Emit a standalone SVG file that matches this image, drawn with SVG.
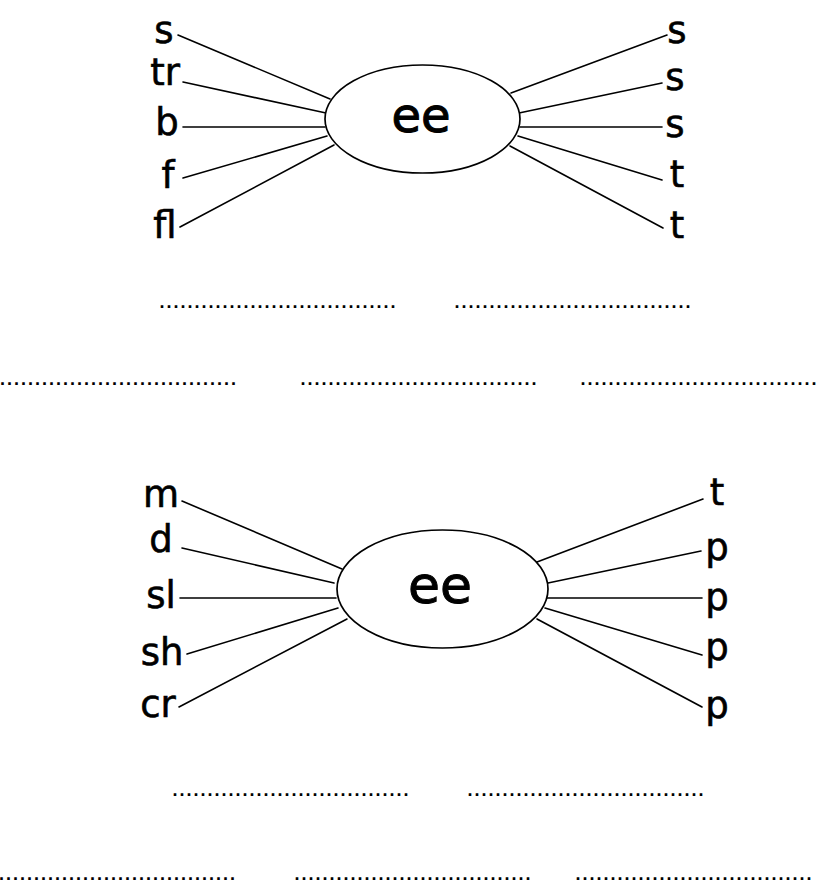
<svg xmlns="http://www.w3.org/2000/svg" width="824" height="891" viewBox="0 0 824 891">
<style>
.bg{fill:#ffffff}
.conn line{stroke:#000;stroke-width:1.6;stroke-linecap:round}
.hub{fill:#fff;stroke:#000;stroke-width:1.7}
.lbl{font-family:"DejaVu Sans","Noto Sans",sans-serif;font-size:37px;fill:#000;stroke:#000;stroke-width:0.6;text-anchor:middle}
.hubt{font-family:"DejaVu Sans","Noto Sans",sans-serif;font-size:48px;fill:#000;stroke:#000;stroke-width:1;text-anchor:middle}
.dots{font-family:"Liberation Sans",Arial,sans-serif;font-size:18px;font-weight:bold;letter-spacing:2px;fill:#000}
</style>
<rect class="bg" x="0" y="0" width="824" height="891"/>
<g id="connectors" class="conn">
<line x1="178" y1="35" x2="330" y2="99"/>
<line x1="183" y1="82" x2="326" y2="113"/>
<line x1="183" y1="127" x2="325" y2="127"/>
<line x1="183" y1="178" x2="327" y2="136"/>
<line x1="180" y1="227" x2="334" y2="145"/>
<line x1="667" y1="35" x2="511" y2="93"/>
<line x1="662" y1="83" x2="519" y2="113"/>
<line x1="662" y1="127" x2="520" y2="127"/>
<line x1="662" y1="180" x2="518" y2="136"/>
<line x1="663" y1="228" x2="510" y2="146"/>
<line x1="182" y1="501" x2="342" y2="569"/>
<line x1="182" y1="548" x2="334" y2="583"/>
<line x1="180" y1="598" x2="336" y2="598"/>
<line x1="187" y1="654" x2="338" y2="608"/>
<line x1="179" y1="707" x2="347" y2="619"/>
<line x1="703" y1="499" x2="537" y2="562"/>
<line x1="701" y1="551" x2="548" y2="583"/>
<line x1="702" y1="598" x2="547" y2="598"/>
<line x1="702" y1="655" x2="545" y2="608"/>
<line x1="702" y1="707" x2="537" y2="619"/>
</g>
<g id="hub1"><ellipse class="hub" cx="422.5" cy="119" rx="97.5" ry="54"/><text class="hubt" x="421" y="132">ee</text></g>
<g id="hub2"><ellipse class="hub" cx="442.5" cy="589" rx="105.5" ry="59"/><text class="hubt" x="440" y="603" style="font-size:52px">ee</text></g>
<g id="t-left">
<g id="n-s1"><text class="lbl" x="164" y="43">s</text></g>
<g id="n-tr"><text class="lbl" x="165" y="85">tr</text></g>
<g id="n-b"><text class="lbl" x="167" y="135">b</text></g>
<g id="n-f"><text class="lbl" x="168" y="188">f</text></g>
<g id="n-fl"><text class="lbl" x="165" y="238">fl</text></g>
</g>
<g id="t-right">
<g id="n-s2"><text class="lbl" x="677" y="43">s</text></g>
<g id="n-s3"><text class="lbl" x="675" y="90">s</text></g>
<g id="n-s4"><text class="lbl" x="675" y="137">s</text></g>
<g id="n-t1"><text class="lbl" x="677" y="187">t</text></g>
<g id="n-t2"><text class="lbl" x="677" y="238">t</text></g>
</g>
<g id="b-left">
<g id="n-m"><text class="lbl" x="161" y="507">m</text></g>
<g id="n-d"><text class="lbl" x="161" y="552">d</text></g>
<g id="n-sl"><text class="lbl" x="161" y="608">sl</text></g>
<g id="n-sh"><text class="lbl" x="162" y="665">sh</text></g>
<g id="n-cr"><text class="lbl" x="158" y="717">cr</text></g>
</g>
<g id="b-right">
<g id="n-t3"><text class="lbl" x="717" y="505">t</text></g>
<g id="n-p1"><text class="lbl" x="717" y="560">p</text></g>
<g id="n-p2"><text class="lbl" x="717" y="610">p</text></g>
<g id="n-p3"><text class="lbl" x="717" y="660">p</text></g>
<g id="n-p4"><text class="lbl" x="717" y="718">p</text></g>
</g>
<g id="answer-lines" class="dots">
<text x="159.5" y="308">..................................</text>
<text x="454.5" y="308">..................................</text>
<text x="0" y="385">..................................</text>
<text x="300.5" y="385">..................................</text>
<text x="580.5" y="385">..................................</text>
<text x="172.5" y="796">..................................</text>
<text x="467.5" y="796">..................................</text>
<text x="-1" y="880">..................................</text>
<text x="294.5" y="880">..................................</text>
<text x="575.5" y="880">..................................</text>
</g>
</svg>
